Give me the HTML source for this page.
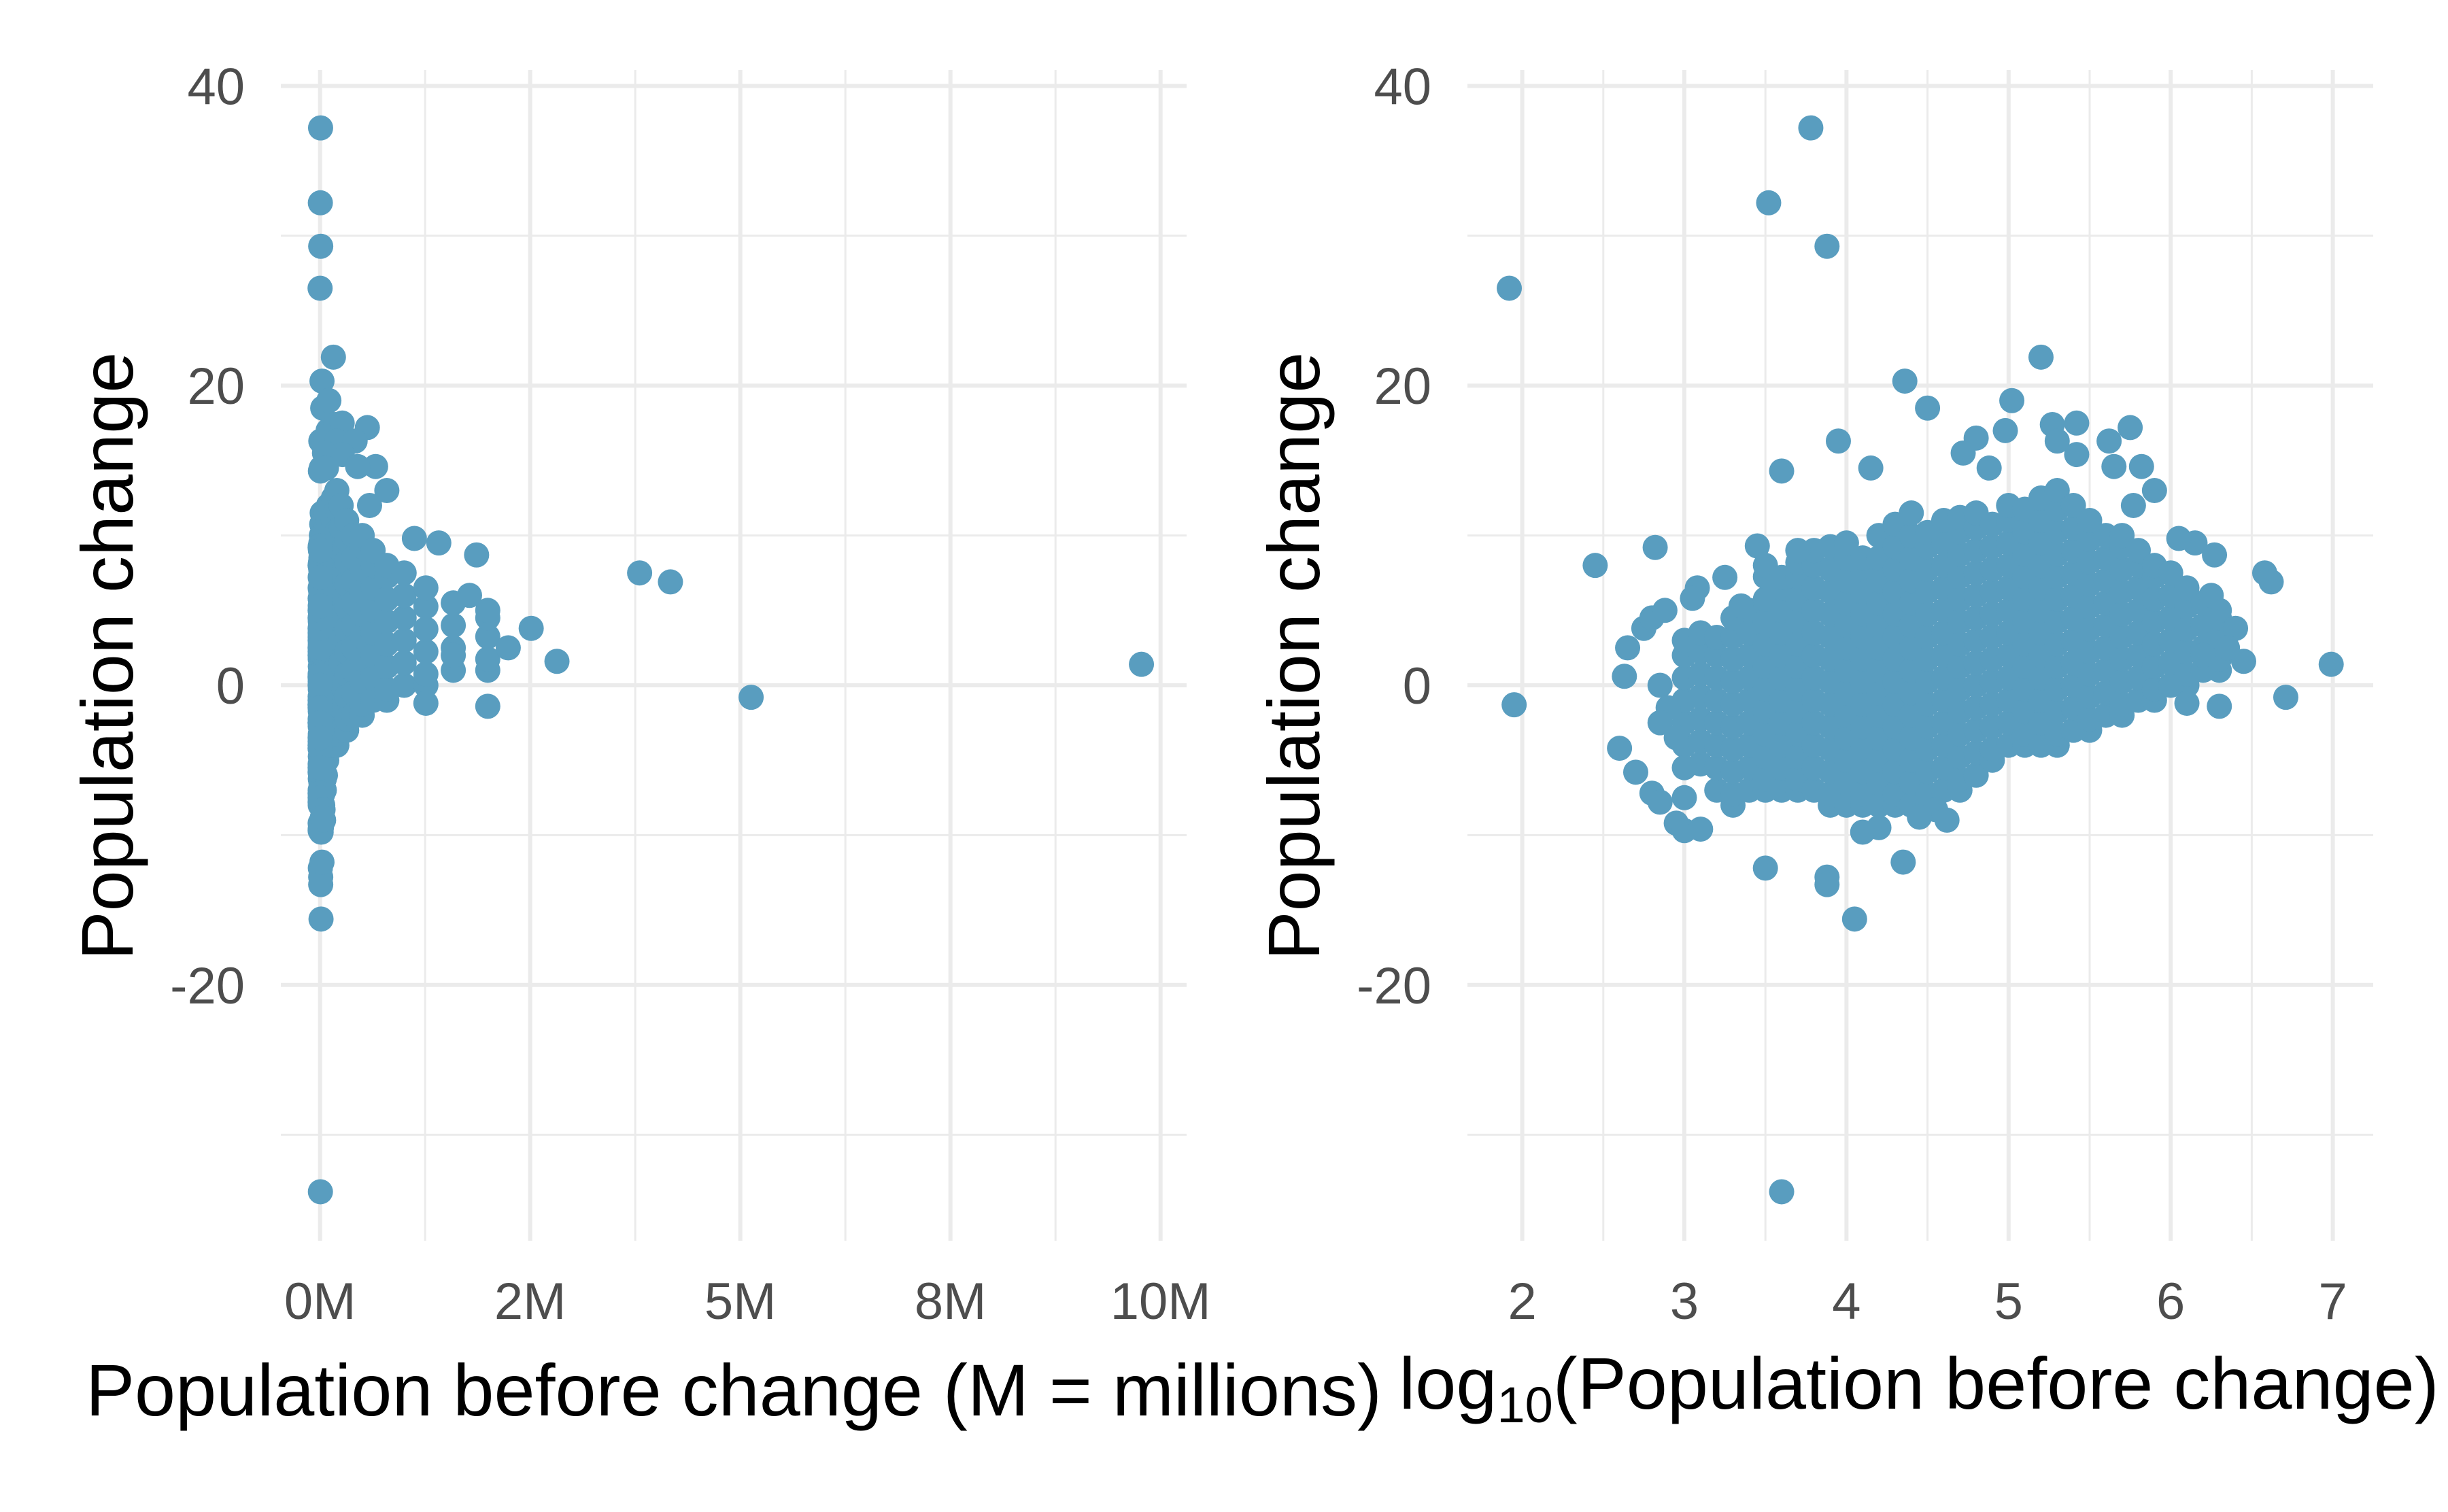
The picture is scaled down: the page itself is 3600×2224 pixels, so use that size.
<!DOCTYPE html>
<html><head><meta charset="utf-8"><style>
html,body{margin:0;padding:0;background:#fff}
svg{display:block}
text{font-family:"Liberation Sans",sans-serif}
</style></head><body>
<svg id="chart" width="3600" height="2224" xmlns="http://www.w3.org/2000/svg"></svg>
<script>
// ---- data: outlier points [log10 population, change]
const outlierLog = [1.92,1.95,2.45,2.82,3.52,3.78,3.88,3.60,3.50,3.88,3.88,4.05,4.35,4.36,4.50,3.95,3.60,4.15,5.20,5.02,4.80,4.98,5.27,5.42,5.30,5.75,5.62,5.42,6.99,6.71,6.58,6.62,6.27,5.82,5.65,5.90,5.77,4.72,4.88,4.20,4.10,2.60,2.70,2.80,2.85,3.00,2.95,3.00,3.10,3.00,2.63,2.65,2.75,2.80,2.88,3.08,3.05,3.25,3.35,2.85,2.90,2.85,2.95,6.40,6.45,6.30,6.25,6.10,6.15,6.35,6.05,6.20,3.45,3.70,4.55,4.62,4.45];
const outlierChange = [26.5,-1.3,8.0,9.2,32.2,37.2,29.3,-33.8,-12.2,-12.8,-13.3,-15.6,-11.8,20.3,18.5,16.3,14.3,14.5,21.9,19.0,16.5,17.0,17.4,17.5,16.3,17.2,16.3,15.4,1.4,-0.8,7.5,6.9,8.7,14.6,14.6,13.0,12.0,15.5,14.5,-9.5,-9.8,-4.2,-5.8,-7.2,-7.8,-7.5,-9.2,-9.7,-9.6,-5.5,0.6,2.5,3.8,4.5,5.0,6.5,5.8,7.2,5.3,0.0,-1.5,-2.5,-3.5,3.8,1.6,-1.4,6.0,-1.2,9.5,2.5,9.8,2.0,9.3,9.0,-8.3,-9.0,-8.8];
// ---- data: dense cloud, one column per log10 population value
const cloudLog = [3.0,3.1,3.2,3.3,3.4,3.5,3.6,3.7,3.8,3.9,4.0,4.1,4.2,4.3,4.4,4.5,4.6,4.7,4.8,4.9,5.0,5.1,5.2,5.3,5.4,5.5,5.6,5.7,5.8,5.9,6.0,6.1,6.2,6.3];
const cloudChange = [
 [-4,-2.5,-1,0.5,2,3],
 [-5.25,-3.75,-2.25,-0.75,0.75,2.25,3.5],
 [-7,-5.5,-4,-2.5,-1,0.5,2,3.2],
 [-8,-7.25,-5.75,-4.25,-2.75,-1.25,0.25,1.75,3.25,4.5],
 [-7,-5.5,-4,-2.5,-1,0.5,2,3.5,5],
 [-7,-6.25,-4.75,-3.25,-1.75,-0.25,1.25,2.75,4.25,5.75,7.25,8],
 [-7,-5.5,-4,-2.5,-1,0.5,2,3.5,5,6.5,7.2],
 [-7,-6.25,-4.75,-3.25,-1.75,-0.25,1.25,2.75,4.25,5.75,7.25,8.2],
 [-7,-5.5,-4,-2.5,-1,0.5,2,3.5,5,6.5,8,9],
 [-8,-7.25,-5.75,-4.25,-2.75,-1.25,0.25,1.75,3.25,4.75,6.25,7.75,9.25],
 [-8,-6.5,-5,-3.5,-2,-0.5,1,2.5,4,5.5,7,8.5,9.5],
 [-8,-7.25,-5.75,-4.25,-2.75,-1.25,0.25,1.75,3.25,4.75,6.25,7.75,8.5],
 [-8,-6.5,-5,-3.5,-2,-0.5,1,2.5,4,5.5,7,8.5,10],
 [-8,-7.25,-5.75,-4.25,-2.75,-1.25,0.25,1.75,3.25,4.75,6.25,7.75,9.25,10.75],
 [-8,-6.5,-5,-3.5,-2,-0.5,1,2.5,4,5.5,7,8.5,10,11.5],
 [-8,-7.25,-5.75,-4.25,-2.75,-1.25,0.25,1.75,3.25,4.75,6.25,7.75,9.25,10.2],
 [-7,-5.5,-4,-2.5,-1,0.5,2,3.5,5,6.5,8,9.5,11],
 [-7,-6.25,-4.75,-3.25,-1.75,-0.25,1.25,2.75,4.25,5.75,7.25,8.75,10.25,11.2],
 [-6,-4.5,-3,-1.5,0,1.5,3,4.5,6,7.5,9,10.5,11.5],
 [-5,-4.25,-2.75,-1.25,0.25,1.75,3.25,4.75,6.25,7.75,9.25,10.75],
 [-4,-2.5,-1,0.5,2,3.5,5,6.5,8,9.5,11,12],
 [-4,-3.25,-1.75,-0.25,1.25,2.75,4.25,5.75,7.25,8.75,10.25,11.75],
 [-4,-2.5,-1,0.5,2,3.5,5,6.5,8,9.5,11,12.5],
 [-4,-3.25,-1.75,-0.25,1.25,2.75,4.25,5.75,7.25,8.75,10.25,11.75,13],
 [-3,-1.5,0,1.5,3,4.5,6,7.5,9,10.5,12],
 [-3,-2.25,-0.75,0.75,2.25,3.75,5.25,6.75,8.25,9.75,11],
 [-2,-0.5,1,2.5,4,5.5,7,8.5,10],
 [-2,-1.25,0.25,1.75,3.25,4.75,6.25,7.75,9.25,10],
 [-1,0.5,2,3.5,5,6.5,8,9],
 [-1,-0.25,1.25,2.75,4.25,5.75,7.25,8],
 [0,1.5,3,4.5,6,7.5],
 [0,0.75,2.25,3.75,5.25,6.5],
 [1,2.5,4,5.5],
 [1,1.75,3.25,4.5,5]
];
const yTicks = [-20,0,20,40];
const yMinor = [-30,-10,10,30];
const leftXTicks = [0,2.5,5,7.5,10];
const leftXLabels = ["0M","2M","5M","8M","10M"];
const leftXMinor = [1.25,3.75,6.25,8.75];
const rightXTicks = [2,3,4,5,6,7];
const rightXMinor = [2.5,3.5,4.5,5.5,6.5];

const NS = "http://www.w3.org/2000/svg";
const svg = document.getElementById('chart');
function mk(tag, attrs, parent){const e=document.createElementNS(NS,tag);for(const k in attrs)e.setAttribute(k,attrs[k]);(parent||svg).appendChild(e);return e;}

const yPix = v => 1008 - v*22.04;
const leftX = m => 470.7 + m*123.6;
const rightX = l => 2238.6 + (l-2)*238.4;
const COLOR = "#599dbf";
const TICK_FS = 76, TITLE_FS = 108;

const pts = [];
for(let i=0;i<cloudLog.length;i++) for(const c of cloudChange[i]) pts.push([cloudLog[i], c]);
for(let i=0;i<outlierLog.length;i++) pts.push([outlierLog[i], outlierChange[i]]);

function panel(name, x0, x1, xs, ticks, labels, minor, ytitleX, ylabX, xval){
  const g = mk('g',{});
  
  
  const top=103, bot=1825;
  for(const m of yMinor){const l=mk('line',{x1:x0,x2:x1,y1:yPix(m),y2:yPix(m),stroke:'#ebebeb','stroke-width':3},g);}
  for(const m of minor){const l=mk('line',{x1:xs(m),x2:xs(m),y1:top,y2:bot,stroke:'#ebebeb','stroke-width':3},g);}
  for(const t of yTicks){const l=mk('line',{x1:x0,x2:x1,y1:yPix(t),y2:yPix(t),stroke:'#ebebeb','stroke-width':6},g);
    const tx=mk('text',{x:ylabX,y:yPix(t)+27,'text-anchor':'end','font-size':TICK_FS,fill:'#4d4d4d'},g);tx.textContent=t;}
  ticks.forEach((t,i)=>{const l=mk('line',{x1:xs(t),x2:xs(t),y1:top,y2:bot,stroke:'#ebebeb','stroke-width':6},g);
    const tx=mk('text',{x:xs(t),y:1940,'text-anchor':'middle','font-size':TICK_FS,fill:'#4d4d4d'},g);tx.textContent=labels[i];});
  for(const p of pts){const c=mk('circle',{cx:xs(xval(p[0])),cy:yPix(p[1]),r:18.5,fill:COLOR},g);}
  const yt=mk('text',{x:0,y:0,'text-anchor':'middle','font-size':TITLE_FS,fill:'#000',transform:`translate(${ytitleX},965) rotate(-90)`},g);yt.textContent='Population change';
  return g;
}
panel('left-panel',413,1745,leftX,leftXTicks,leftXLabels,leftXMinor,195,360,l=>Math.pow(10,l)/1e6);
panel('right-panel',2158,3490,rightX,rightXTicks,rightXTicks.map(String),rightXMinor,1940,2105,l=>l);

const xt1=mk('text',{x:1079,y:2082,'text-anchor':'middle','font-size':TITLE_FS,fill:'#000'});
xt1.textContent='Population before change (M = millions)';


const xt2=mk('text',{x:2822,y:2072,'text-anchor':'middle','font-size':TITLE_FS,fill:'#000'});
xt2.innerHTML='log<tspan font-size="74" dy="20">10</tspan><tspan dy="-20">(Population before change)</tspan>';


</script>
</body></html>
